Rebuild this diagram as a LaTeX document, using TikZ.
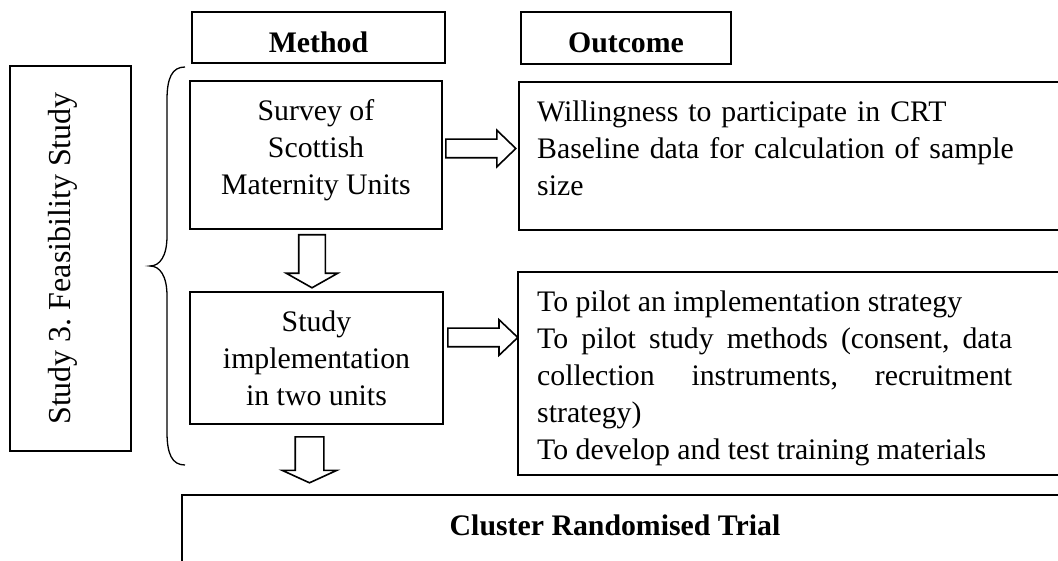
\documentclass[tikz,border=0pt]{standalone}
\usepackage{fontspec}
\setmainfont{Liberation Serif}
\usetikzlibrary{shapes.arrows}
\frenchspacing

\begin{document}
\begin{tikzpicture}[x=1pt,y=-1pt,
  font=\fontsize{29.8}{37}\selectfont,
  box/.style={draw,line width=1.6pt,inner sep=0pt,align=center},
  fatarrow/.style={draw,line width=1.6pt,single arrow,inner sep=0pt,text depth=0pt,
    single arrow head indent=0pt,shape border rotate=0,anchor=tail}]
\clip (0,0) rectangle (1058,561);
\useasboundingbox (0,0) rectangle (1058,561);

%Headings
\node [box,minimum width=253,minimum height=51,text height=30pt,text depth=0pt] (method) at (318.5,37.5) {\bfseries Method};
\node [box,minimum width=210,minimum height=52,text height=30pt,text depth=0pt] (outcome) at (626,38) {\bfseries Outcome};

%Study 3 label and brace
\node [box,rotate=90,minimum width=385,minimum height=121,font=\fontsize{32}{37}\selectfont,text depth=23pt] (feas) at (70.5,258.5) {Study 3. Feasibility Study};
\draw [line width=1.3pt] (185,67) .. controls (172,67) and (167,78) .. (167,100) -- (167,236)
  .. controls (167,256) and (160,266) .. (150,266)
  .. controls (160,266) and (167,276) .. (167,296) -- (167,432)
  .. controls (167,454) and (172,465) .. (185,465);

%Method column
\node [box,minimum width=252,minimum height=148] (survey) at (316,155) {};
\node [anchor=north,inner sep=0pt,align=center] (surveytext) at (316,99.6) {Survey of\\Scottish\\Maternity Units};
\node [box,minimum width=253,minimum height=132] (impl) at (316.5,358) {Study\\implementation\\in two units};

%Outcome column
\node [box,anchor=north west,minimum width=600,minimum height=148] (out1) at (518,81) {};
\node [anchor=north west,inner sep=0pt,text width=520,align=left] (out1text) at (537,100.6)
  {Willingness to participate in CRT\\Baseline data for calculation of sample\\size};
\node [box,anchor=north west,minimum width=600,minimum height=203] (out2) at (517,271) {};
\node [anchor=north west,inner sep=0pt,text width=475,align=justify] (out2text) at (537,290.6)
  {\hyphenpenalty=10000 To pilot an implementation strategy\par
   To pilot study methods (consent, data\linebreak collection instruments, recruitment\linebreak strategy)\par
   To develop and test training materials};

%Trial
\node [box,anchor=north west,minimum width=1000,minimum height=200] (crt) at (181,494) {};
\node [anchor=base] (crttext) at (615,535) {\bfseries Cluster Randomised Trial};

%Block arrows
\node [fatarrow,minimum height=70,text height=17pt,single arrow head extend=9,single arrow tip angle=88] (a1) at (445,148.5) {};
\node [fatarrow,minimum height=70,text height=17pt,single arrow head extend=8.5,single arrow tip angle=87] (a3) at (447,337.5) {};
\node [fatarrow,rotate=-90,minimum height=53,text height=25pt,single arrow head extend=12.5,single arrow tip angle=121] (a2) at (312,234) {};
\node [fatarrow,rotate=-90,minimum height=46,text height=27pt,single arrow head extend=13,single arrow tip angle=131] (a4) at (309.5,436) {};
\end{tikzpicture}
\end{document}
